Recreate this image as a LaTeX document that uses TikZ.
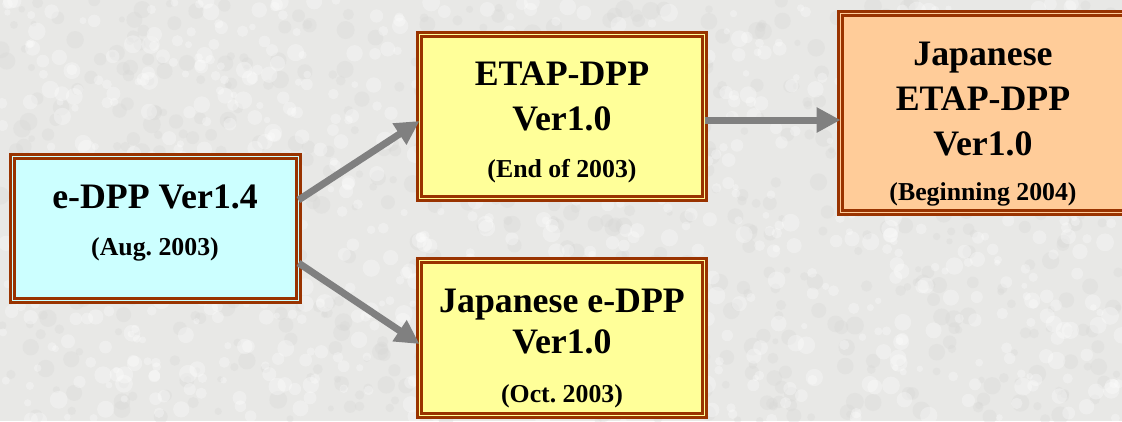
\documentclass[tikz,border=0pt]{standalone}
\usepackage{fontspec}
\setmainfont{Liberation Serif}
\usetikzlibrary{arrows.meta}
\frenchspacing
\definecolor{bg}{RGB}{232,232,230}
\definecolor{speckd}{RGB}{216,216,214}
\definecolor{brd}{RGB}{153,51,0}
\definecolor{cyanf}{RGB}{204,255,255}
\definecolor{yellf}{RGB}{255,255,153}
\definecolor{peachf}{RGB}{255,204,153}
\definecolor{arrg}{RGB}{128,128,128}
\tikzset{
  box/.style={rectangle, draw=brd, line width=2.5pt, double distance=1.5pt, inner sep=0pt, outer sep=0pt},
  ttl/.style={anchor=base, font=\frenchspacing\bfseries\fontsize{35.8}{40}\selectfont},
  sub/.style={anchor=base, font=\frenchspacing\bfseries\fontsize{25.8}{30}\selectfont},
  arr/.style={draw=arrg, line width=7pt, -{Triangle[length=24pt,width=24pt]}}
}
\begin{document}
\begin{tikzpicture}[x=1pt,y=-1pt]
\useasboundingbox (0,0) rectangle (1122,421);
\clip (0,0) rectangle (1122,421);
\fill[bg] (0,0) rectangle (1122,421);
% background texture
\pgfmathsetseed{17}
\foreach \i in {1,...,700}{
  \pgfmathsetmacro\px{rnd*1122}
  \pgfmathsetmacro\py{rnd*421}
  \pgfmathsetmacro\pr{3+rnd*6}
  \fill[speckd, opacity=0.35] (\px,\py) circle[radius=\pr pt];
}
\foreach \i in {1,...,900}{
  \pgfmathsetmacro\px{rnd*1122}
  \pgfmathsetmacro\py{rnd*421}
  \pgfmathsetmacro\pr{3+rnd*6}
  \fill[white, opacity=0.3] (\px,\py) circle[radius=\pr pt];
}
% boxes
\node[box, fill=cyanf, double=cyanf, minimum width=286pt, minimum height=144pt] (b1) at (155.5,228.5) {};
\node[box, fill=yellf, double=yellf, minimum width=285pt, minimum height=164pt] (b2) at (562,116.5) {};
\node[box, fill=peachf, double=peachf, minimum width=285pt, minimum height=199pt] (b3) at (983,113) {};
\node[box, fill=yellf, double=yellf, minimum width=285pt, minimum height=155pt] (b4) at (562,338) {};
% texts
\node[ttl] (t1a) at (155,208) {e-DPP Ver1.4};
\node[sub] (t1b) at (155,255) {(Aug. 2003)};
\node[ttl] (t2a) at (562,85) {ETAP-DPP};
\node[ttl] (t2b) at (562,130) {Ver1.0};
\node[sub] (t2c) at (562,177) {(End of 2003)};
\node[ttl] (t3a) at (983,65) {Japanese};
\node[ttl] (t3b) at (983,110) {ETAP-DPP};
\node[ttl] (t3c) at (983,155) {Ver1.0};
\node[sub] (t3d) at (983,200) {(Beginning 2004)};
\node[ttl] (t4a) at (562,312) {Japanese e-DPP};
\node[ttl] (t4b) at (562,353) {Ver1.0};
\node[sub] (t4c) at (562,402) {(Oct. 2003)};
% arrows
\draw[arr] ([yshift=28.5pt]b1.east) -- ([yshift=-4.5pt]b2.west);
\draw[arr] ([yshift=-34.5pt]b1.east) -- ([yshift=-6pt]b4.west);
\draw[arr] ([yshift=-3.5pt]b2.east) -- ([yshift=-7pt]b3.west);
\end{tikzpicture}
\end{document}
